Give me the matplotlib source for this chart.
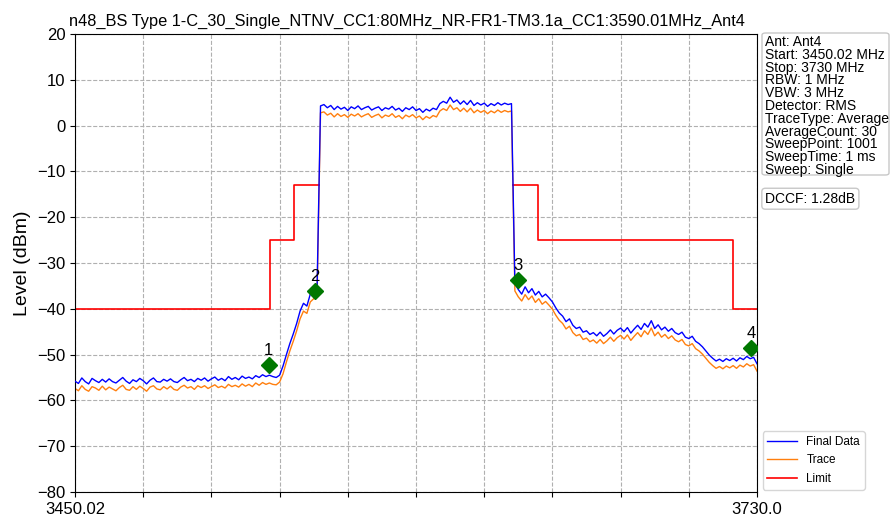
import numpy as np
import matplotlib
matplotlib.use("Agg")
import matplotlib.pyplot as plt
from matplotlib.patches import FancyBboxPatch

plt.rcParams['font.family'] = ['Liberation Sans', 'DejaVu Sans']

title = "n48_BS Type 1-C_30_Single_NTNV_CC1:80MHz_NR-FR1-TM3.1a_CC1:3590.01MHz_Ant4"
f_start, f_stop = 3450.02, 3730.0

# Final Data (blue), 201 points
final_data = [
    -55.8, -56.3, -55.1, -55.9, -56.4, -55.2, -55.7, -56.1, -55.4, -56.0,
    -55.3, -55.9, -56.2, -55.6, -55.0, -55.8, -56.3, -55.5, -55.9, -55.2,
    -55.7, -56.4, -55.6, -55.1, -55.9, -56.0, -55.4, -55.8, -55.3, -55.9,
    -56.1, -55.5, -55.0, -55.7, -55.4, -55.9, -55.2, -55.6, -55.1, -55.8,
    -55.3, -54.9, -55.6, -55.2, -55.7, -54.8, -55.4, -55.0, -55.5, -54.7,
    -55.2, -54.9, -55.3, -54.6, -55.0, -54.4, -54.8, -54.5, -54.8, -55.0,
    -54.5, -52.5, -50.0, -47.6, -45.5, -43.2, -40.5, -38.8, -39.4, -36.8,
    -36.2, -35.0,
    4.3, 4.6, 3.9, 4.4, 3.5, 4.2, 3.6, 4.0, 3.3, 4.1,
    3.7, 4.3, 3.5, 3.9, 4.2, 3.4, 3.8, 4.1, 3.3, 3.9,
    3.6, 4.2, 3.4, 3.8, 3.1, 3.9, 3.5, 4.1, 3.3, 3.7,
    2.9, 3.6, 3.2, 3.8, 3.5,
    4.8, 5.3, 4.9, 6.2, 5.1, 5.6, 4.7, 5.4, 4.6, 5.5,
    4.4, 5.0, 4.5, 4.9, 4.2, 4.8, 4.4, 5.0, 4.5, 4.9, 4.6, 4.8,
    -34.5, -35.8, -36.8, -35.2, -36.5, -35.6, -37.0, -36.2, -37.4, -36.8, -37.6,
    -38.5, -39.8, -40.9, -41.6, -42.8, -42.2, -43.6, -44.3, -44.0, -45.1,
    -44.8, -45.6, -45.2, -45.9, -45.1, -46.0, -45.4, -44.6, -45.5, -44.7,
    -44.2, -45.0, -44.1, -45.3, -44.4, -43.6, -44.5, -43.2, -44.0, -42.6,
    -44.3, -43.5, -44.6, -44.0, -44.9, -44.3, -45.2, -45.6, -45.1, -46.2,
    -46.5, -46.0, -47.1, -47.6, -48.3, -49.2, -50.1, -50.8, -51.4, -51.0,
    -51.5, -50.9, -51.3, -50.8, -51.4, -50.7, -51.1, -50.4, -50.9, -50.6,
    -52.0,
]

# Trace (orange)
trace = [
    -57.4, -57.9, -56.8, -57.6, -58.0, -57.0, -57.3, -57.8, -56.9, -57.7,
    -57.1, -57.5, -57.9, -57.2, -56.7, -57.6, -57.8, -57.0, -57.6, -56.9,
    -57.4, -58.0, -57.1, -56.8, -57.5, -57.7, -57.0, -57.5, -56.9, -57.6,
    -57.8, -57.1, -56.7, -57.3, -57.0, -57.6, -56.8, -57.2, -56.8, -57.4,
    -57.0, -56.6, -57.2, -56.9, -57.3, -56.5, -57.0, -56.7, -57.1, -56.4,
    -56.9, -56.5, -57.0, -56.2, -56.7, -56.1, -56.5, -56.2, -56.5, -56.6,
    -56.0, -54.2, -51.6, -49.2, -47.1, -44.8, -42.2, -40.5, -41.0, -38.5,
    -37.8, -36.6,
    2.8, 3.0, 2.3, 2.7, 1.9, 2.6, 2.0, 2.4, 1.8, 2.5,
    2.1, 2.6, 1.9, 2.3, 2.6, 1.8, 2.2, 2.5, 1.7, 2.3,
    2.0, 2.6, 1.8, 2.2, 1.5, 2.3, 1.9, 2.4, 1.7, 2.1,
    1.3, 2.0, 1.6, 2.2, 1.9,
    3.2, 3.7, 3.3, 4.5, 3.5, 3.9, 3.1, 3.8, 3.0, 3.8,
    2.8, 3.4, 2.9, 3.3, 2.6, 3.2, 2.8, 3.4, 2.9, 3.3, 3.0, 3.2,
    -36.1, -37.4, -38.3, -36.9, -38.0, -37.2, -38.6, -37.8, -39.0, -38.4, -39.2,
    -40.1, -41.4, -42.5, -43.2, -44.4, -43.8, -45.2, -45.9, -45.6, -46.7,
    -46.4, -47.2, -46.8, -47.5, -46.7, -47.6, -47.0, -46.2, -47.1, -46.3,
    -45.8, -46.6, -45.7, -46.9, -46.0, -45.2, -46.1, -44.8, -45.6, -44.2,
    -45.9, -45.1, -46.2, -45.6, -46.5, -45.9, -46.8, -47.2, -46.7, -47.8,
    -48.1, -47.6, -48.7, -49.2, -49.9, -50.8, -51.7, -52.4, -53.0, -52.6,
    -53.1, -52.5, -52.9, -52.4, -53.0, -52.3, -52.7, -52.0, -52.5, -52.2,
    -53.6,
]

# limit mask
limit_freq = [3450.02, 3530, 3530, 3540, 3540, 3550, np.nan, 3630, 3640, 3640, 3720, 3720, 3730]
limit_lvl = [-40, -40, -25, -25, -13, -13, np.nan, -13, -13, -25, -25, -40, -40]

# markers
marker_freq = [3529.6, 3548.6, 3631.9, 3727.5]
marker_lvl = [-52.3, -36.1, -33.7, -48.6]
marker_names = ["1", "2", "3", "4"]

info_lines = [
    "Ant: Ant4",
    "Start: 3450.02 MHz",
    "Stop: 3730 MHz",
    "RBW: 1 MHz",
    "VBW: 3 MHz",
    "Detector: RMS",
    "TraceType: Average",
    "AverageCount: 30",
    "SweepPoint: 1001",
    "SweepTime: 1 ms",
    "Sweep: Single",
]
dccf_text = "DCCF: 1.28dB"

freq = np.linspace(f_start, f_stop, len(final_data))

W, H = 893, 521
fig = plt.figure(figsize=(W / 100, H / 100), dpi=100)
ax = fig.add_axes([0.084, 0.0557, 0.7637, 0.879])

l_tr, = ax.plot(freq, trace, color="#ff7f0e", lw=1.0, label="Trace", zorder=2)
l_fd, = ax.plot(freq, final_data, color="#0000ff", lw=1.0, label="Final Data", zorder=3)
l_lim, = ax.plot(limit_freq, limit_lvl, color="#ff0000", lw=1.2, label="Limit", zorder=2)

ax.plot(marker_freq, marker_lvl, linestyle="none", marker="D", color="#007800",
        markersize=8, zorder=5)
for f, v, name in zip(marker_freq, marker_lvl, marker_names):
    ax.text(f, v + 1.6, name, ha="center", va="bottom", fontsize=12, zorder=6)

ax.set_xlim(f_start, f_stop)
ax.set_ylim(-80, 20)
xt = np.linspace(f_start, f_stop, 11)
ax.set_xticks(xt)
ax.set_xticklabels(["3450.02"] + [""] * 9 + ["3730.0"])
ax.set_yticks(np.arange(-80, 21, 10))
ax.tick_params(labelsize=12)
ax.grid(True, linestyle="--", color="#b0b0b0", lw=0.8)
ax.set_ylabel("Level (dBm)", fontsize=14)
ax.set_title(title, fontsize=11.8, x=0.487)

# info box: tight line pitch, so one text per line inside a drawn box
box = FancyBboxPatch((762 / W, 1 - 175 / H), 127 / W, 142 / H,
                     boxstyle="round,pad=0,rounding_size=0.004",
                     transform=fig.transFigure, fc="white", ec="#c8c8c8", lw=1)
fig.patches.append(box)
for i, line in enumerate(info_lines):
    fig.text(765 / W, 1 - (35 + i * 12.8) / H, line, fontsize=10, va="top", ha="left")

fig.text(0.857, 0.632, dccf_text, fontsize=10, va="top", ha="left",
         bbox=dict(boxstyle="round,pad=0.25", fc="white", ec="#c8c8c8"))

ax.legend(handles=[l_fd, l_tr, l_lim], loc="lower left", bbox_to_anchor=(1.005, 0.0),
          fontsize=8.5, frameon=True, borderaxespad=0.2, labelspacing=0.55,
          handlelength=2.5)

fig.savefig("out.png", dpi=100)
